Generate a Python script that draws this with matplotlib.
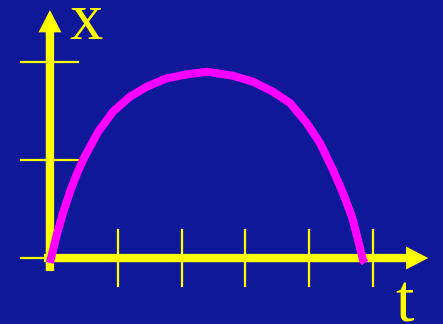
import matplotlib
matplotlib.use("Agg")
import matplotlib.pyplot as plt
from matplotlib.patches import FancyArrowPatch

# 背景と線の色
bg_color = "#10189a"
axis_color = "#ffff00"
curve_color = "#ff00ff"

# 軌跡 x(t)
t_vals = [0.0, 0.01, 0.114, 0.219, 0.323, 0.427, 0.531, 0.755, 0.984,
          1.25, 1.511, 1.823, 2.136, 2.453, 2.859, 3.172, 3.484, 3.75,
          4.011, 4.219, 4.422, 4.578, 4.719, 4.813, 4.891, 4.92]
x_vals = [-0.05, -0.02, 0.255, 0.49, 0.694, 0.867, 1.02, 1.289, 1.493,
          1.646, 1.748, 1.834, 1.874, 1.901, 1.86, 1.799, 1.697, 1.582,
          1.378, 1.173, 0.898, 0.663, 0.418, 0.184, -0.02, -0.05]

# 目盛りの位置
t_ticks = [1.06, 2.06, 3.05, 4.05, 5.05]
x_ticks = [0.0, 1.0, 2.0]

fig = plt.figure(figsize=(4.43, 3.24), dpi=100)
fig.patch.set_facecolor(bg_color)
ax = fig.add_axes([0, 0, 1, 1])
ax.set_facecolor(bg_color)
ax.set_xlim(-0.78, 6.14)
ax.set_ylim(-0.673, 2.633)
ax.axis("off")

# 目盛り線
for tt in t_ticks:
    ax.plot([tt, tt], [-0.29, 0.29], color=axis_color, lw=1.6, zorder=2)
for xx in x_ticks:
    ax.plot([-0.45, 0.44], [xx, xx], color=axis_color, lw=1.6, zorder=2)

# 矢印付きの軸
arrow_style = "simple,tail_width=6.0,head_width=16.5,head_length=16"
ax.add_patch(FancyArrowPatch((0, -0.133), (0, 2.53), arrowstyle=arrow_style,
                             mutation_scale=1, shrinkA=0, shrinkB=0,
                             color=axis_color, lw=0, zorder=3))
ax.add_patch(FancyArrowPatch((-0.094, 0), (5.91, 0), arrowstyle=arrow_style,
                             mutation_scale=1, shrinkA=0, shrinkB=0,
                             color=axis_color, lw=0, zorder=3))

# 曲線
ax.plot(t_vals, x_vals, color=curve_color, lw=5.8,
        solid_capstyle="butt", solid_joinstyle="round", zorder=4)

# 軸ラベル
ax.text(0.31, 2.235, "x", color=axis_color, fontsize=48,
        family="Liberation Serif", ha="left", va="baseline")
ax.text(5.39, -0.643, "t", color=axis_color, fontsize=48,
        family="Liberation Serif", ha="left", va="baseline")

fig.savefig("out.png", dpi=100, facecolor=bg_color)
